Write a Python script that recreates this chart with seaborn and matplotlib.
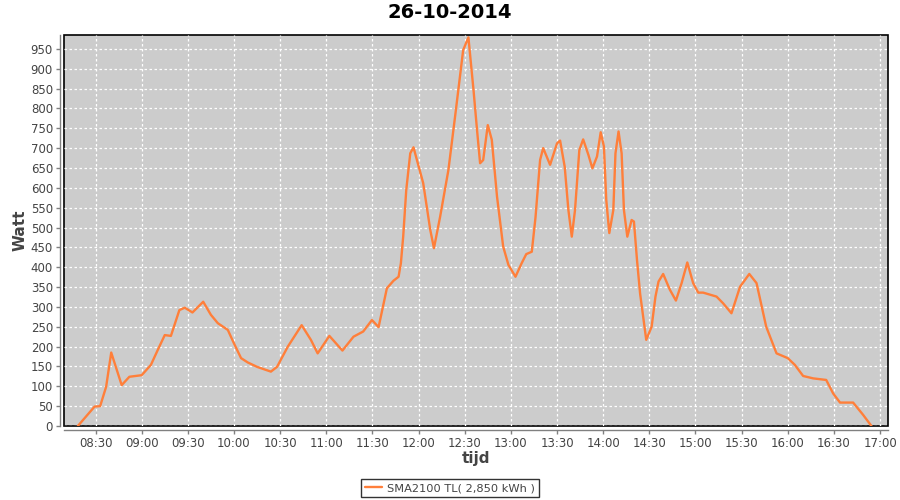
import matplotlib
matplotlib.use("Agg")
import matplotlib.pyplot as plt
import matplotlib.dates as mdates
import seaborn as sns
import pandas as pd

title = "26-10-2014"
series_name = "SMA2100 TL( 2,850 kWh )"

times = [
    "08:18:30", "08:29:24", "08:33:00", "08:36:54", "08:40:12", "08:47:00", "08:52:00",
    "09:00:00", "09:06:00", "09:10:30", "09:15:00", "09:19:00", "09:24:30", "09:28:00",
    "09:33:00", "09:40:00", "09:45:00", "09:49:30", "09:56:00", "10:00:00", "10:04:36",
    "10:09:00", "10:15:00", "10:24:00", "10:28:00", "10:35:00", "10:44:00", "10:50:00",
    "10:54:24", "11:02:00", "11:10:30", "11:17:42", "11:24:00", "11:29:42", "11:34:00",
    "11:39:24", "11:43:42", "11:47:00", "11:48:30", "11:50:00", "11:52:00", "11:54:36",
    "11:56:42", "12:03:00",
    "12:07:36", "12:10:00", "12:14:00", "12:19:24", "12:24:00", "12:29:00", "12:32:24",
    "12:35:42", "12:38:00", "12:40:00", "12:42:00", "12:45:00", "12:47:36", "12:51:00",
    "12:55:00", "12:58:24", "13:03:00", "13:07:00", "13:10:00", "13:13:36", "13:16:00",
    "13:19:00", "13:21:00", "13:25:30", "13:30:00", "13:32:00", "13:35:00", "13:37:24",
    "13:39:36", "13:41:42", "13:44:30", "13:47:00", "13:50:24", "13:53:00", "13:56:00",
    "13:58:24", "14:00:30", "14:02:00", "14:04:00", "14:06:36", "14:08:00", "14:10:00",
    "14:12:00", "14:13:30", "14:15:42", "14:18:30", "14:20:00", "14:22:00", "14:24:00",
    "14:28:00", "14:31:30", "14:34:00", "14:36:00", "14:39:00", "14:43:24", "14:47:18",
    "14:51:00", "14:54:42", "14:58:30", "15:01:48", "15:05:00", "15:13:42", "15:18:00",
    "15:23:24", "15:29:00", "15:35:00", "15:39:42", "15:46:00", "15:52:42", "16:00:00",
    "16:04:36", "16:10:00", "16:16:30", "16:25:00", "16:29:30", "16:34:00", "16:42:30",
    "16:49:00", "16:54:24",
]
watts = [
    0, 49, 50, 99, 185, 103, 124,
    128, 154, 192, 229, 227, 292, 298,
    286, 313, 280, 259, 242, 208, 171,
    160, 149, 137, 149, 200, 254, 217,
    183, 227, 190, 225, 238, 267, 249,
    347, 366, 376, 410, 477, 595, 687,
    702, 612,
    494, 448, 527, 645, 788, 947, 979,
    847, 746, 662, 670, 758, 721, 578,
    452, 406, 376, 410, 433, 439, 525,
    670, 700, 658, 712, 719, 653, 544,
    477, 544, 695, 722, 683, 649, 679,
    740, 704, 570, 486, 544, 687, 742,
    687, 544, 477, 519, 515, 418, 334,
    217, 250, 326, 364, 383, 343, 316,
    360, 412, 360, 336, 336, 326, 309,
    284, 351, 383, 360, 250, 183, 171,
    154, 126, 120, 116, 82, 59, 59,
    28, 0,
]

df = pd.DataFrame({
    "tijd": pd.to_datetime(["2014-10-26 " + t for t in times]),
    "Watt": watts,
})

sns.set_style("white")
plt.rcParams["font.family"] = ["DejaVu Sans"]

fig = plt.figure(figsize=(9, 5), dpi=100)
ax = fig.add_axes([64 / 900, 1 - 426 / 500, (888 - 64) / 900, (426 - 35) / 500])
ax.set_facecolor("#CCCCCC")

sns.lineplot(data=df, x="tijd", y="Watt", ax=ax, color="#FF7F3A", linewidth=1.7,
             label=series_name, legend=False)

ax.set_xlim(pd.Timestamp("2014-10-26 08:09:30"), pd.Timestamp("2014-10-26 17:05:10"))
ax.set_ylim(0, 985)
ax.set_yticks(range(0, 951, 50))
ax.xaxis.set_major_locator(mdates.MinuteLocator(byminute=[0, 30]))
ax.xaxis.set_major_formatter(mdates.DateFormatter("%H:%M"))

ax.grid(True, color="white", linestyle=(0, (2, 2)), linewidth=0.9)
ax.set_axisbelow(True)

ax.patch.set_edgecolor("black")
ax.patch.set_linewidth(1.2)
for s in ["top", "right"]:
    ax.spines[s].set_visible(False)
for s in ["left", "bottom"]:
    ax.spines[s].set_color("#808080")
    ax.spines[s].set_linewidth(1.0)
    ax.spines[s].set_position(("outward", 3))

ax.tick_params(axis="both", direction="out", length=3, width=1, color="#808080",
               labelsize=8.5, labelcolor="#444444", pad=2, left=True, bottom=True)

ax.set_xlabel("tijd", fontsize=11, fontweight="bold", color="#444444", labelpad=1)
ax.set_ylabel("Watt", fontsize=11, fontweight="bold", color="#444444", labelpad=2)

fig.suptitle(title, x=0.5, y=1 - 3 / 500, va="top", fontsize=14, fontweight="bold",
             color="black")

h, l = ax.get_legend_handles_labels()
leg = fig.legend(h, l, loc="lower center", bbox_to_anchor=(0.5, 0.006), fontsize=8.2,
                 frameon=True, fancybox=False, edgecolor="black", handlelength=1.5,
                 handletextpad=0.4, borderpad=0.35, borderaxespad=0)
leg.get_frame().set_linewidth(1.0)
for t in leg.get_texts():
    t.set_color("#444444")

fig.savefig("out.png", dpi=100, facecolor="white")
